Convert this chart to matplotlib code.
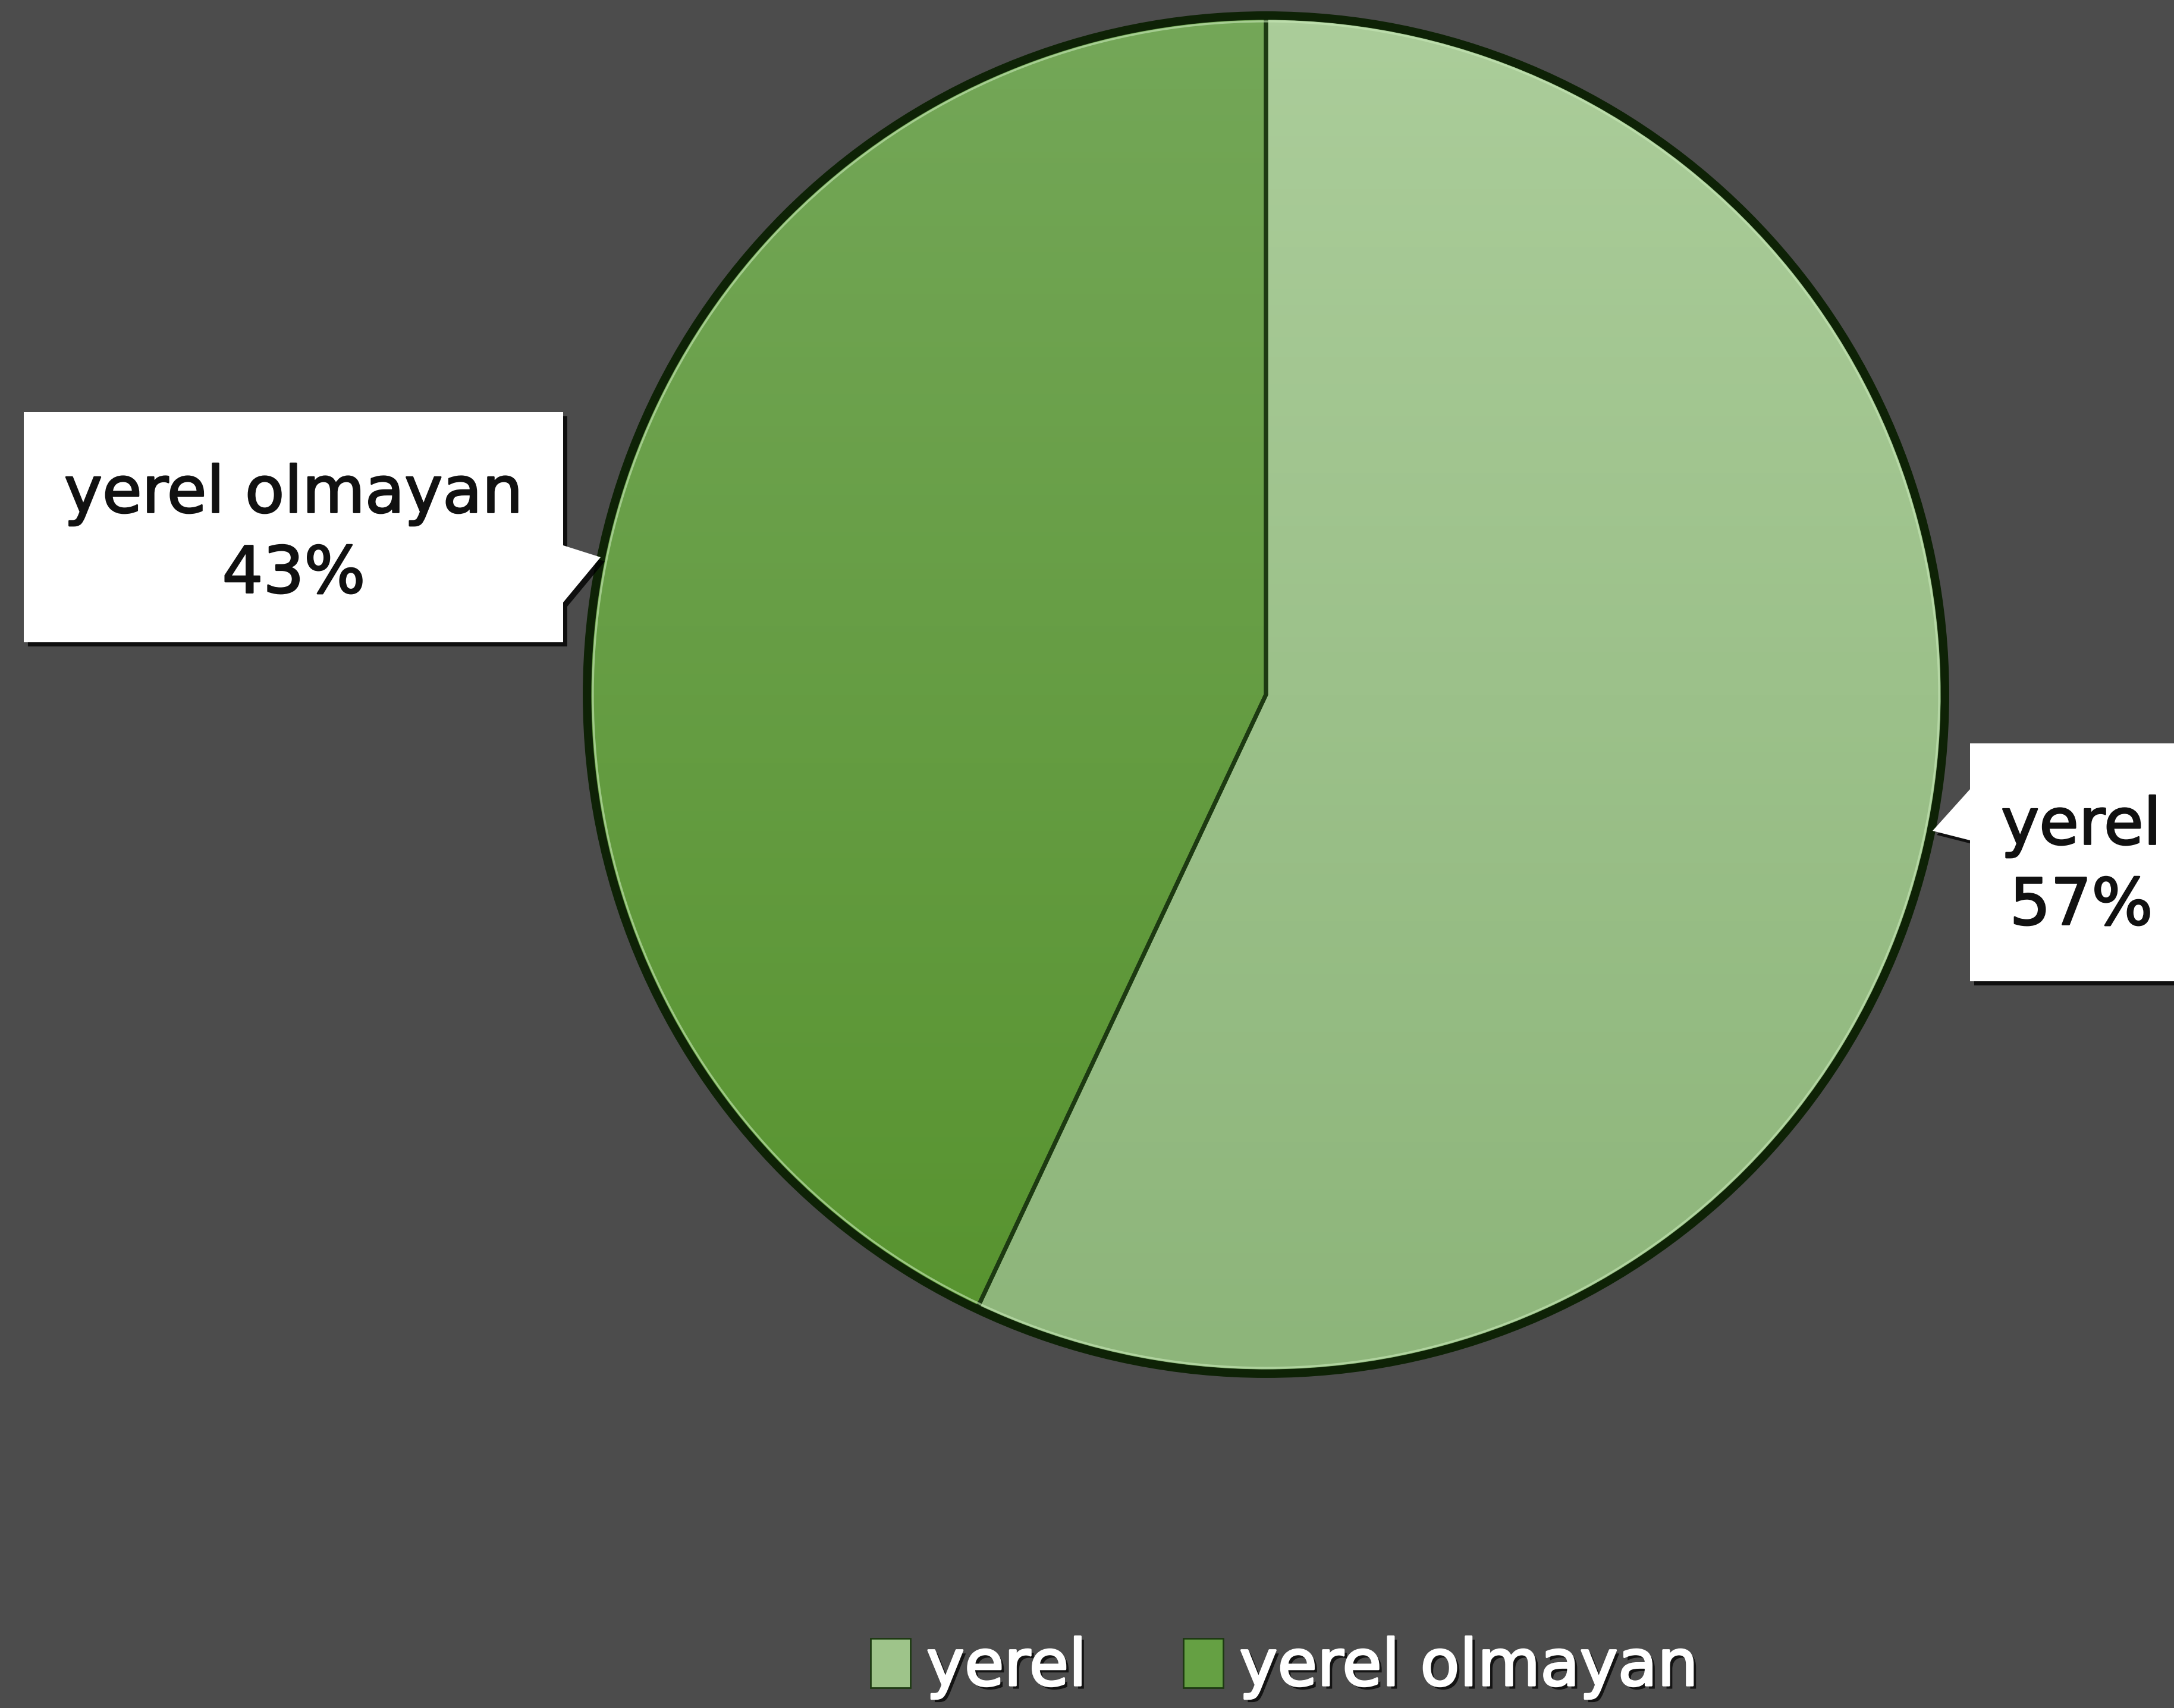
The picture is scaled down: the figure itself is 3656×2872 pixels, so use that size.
import numpy as np
import matplotlib
matplotlib.use("Agg")
import matplotlib.pyplot as plt
from matplotlib.colors import LinearSegmentedColormap
from matplotlib.patches import Polygon, Patch, Circle
import matplotlib.patheffects as pe

# ---- data ----
labels = ["yerel", "yerel olmayan"]
values = [57, 43]
colors = ["#9ec48a", "#65a043"]
grad_top = ["#abcd9a", "#74a758"]
grad_bot = ["#8db57a", "#57932e"]

W, H = 3656, 2872
DPI = 200
fig = plt.figure(figsize=(W / DPI, H / DPI), dpi=DPI)
fig.patch.set_facecolor("#4c4c4c")
ax = fig.add_axes([0, 0, 1, 1])

cx, cy, R = 2129, H - 1168, 1138

wedges, _ = ax.pie(values, colors=colors, startangle=90, counterclock=False,
                   center=(cx, cy), radius=R,
                   wedgeprops=dict(edgecolor="#1d3a12", linewidth=2.5))
ax.set_xlim(0, W)
ax.set_ylim(0, H)
ax.set_aspect("equal")
ax.axis("off")

# subtle vertical gradient inside each slice
grad = np.linspace(0, 1, 256).reshape(-1, 1)
for w, ct, cb in zip(wedges, grad_top, grad_bot):
    cmap = LinearSegmentedColormap.from_list("g", [cb, ct])
    im = ax.imshow(grad, extent=(cx - R, cx + R, cy - R, cy + R), origin="lower",
                   cmap=cmap, aspect="auto", zorder=1.5, interpolation="bilinear")
    im.set_clip_path(w)
    w.set_facecolor("none")
    w.set_zorder(2)

# outer dark rim with faint highlight
ax.add_patch(Circle((cx, cy), R + 4, fill=False, edgecolor="#0e2206", linewidth=5, zorder=2.5))
ax.add_patch(Circle((cx, cy), R - 6, fill=False, edgecolor="#c8e8b8", linewidth=1.2, alpha=0.6, zorder=2.4))
ax.set_xlim(0, W)
ax.set_ylim(0, H)

# callout boxes
left_box = [(40, H - 1080), (947, H - 1080), (947, H - 1013), (1010, H - 937),
            (947, H - 917), (947, H - 693), (40, H - 693)]
right_box = [(3313, H - 1650), (3700, H - 1650), (3700, H - 1250), (3313, H - 1250),
             (3313, H - 1327), (3250, H - 1397), (3313, H - 1413)]
for pts in (left_box, right_box):
    p = Polygon(pts, closed=True, facecolor="white", edgecolor="none", zorder=4)
    p.set_path_effects([pe.SimplePatchShadow(offset=(2.5, -2.5), shadow_rgbFace="black", alpha=0.8),
                        pe.Normal()])
    ax.add_patch(p)

total = sum(values)
label_pos = {"yerel olmayan": (494, H - 899), "yerel": (3500, H - 1457)}
for lab, v in zip(labels, values):
    x, y = label_pos[lab]
    t = ax.text(x, y, f"{lab}\n{round(100 * v / total)}%", ha="center", va="center",
                fontsize=39, color="#111111", linespacing=1.35, zorder=5,
                family="DejaVu Sans")
    t.set_path_effects([pe.withStroke(linewidth=1.0, foreground="#111111")])

# legend
handles = [Patch(facecolor=c, edgecolor="#1d3a12", linewidth=1) for c in colors]
leg = ax.legend(handles, labels, loc="center", bbox_to_anchor=(2160, 68),
                bbox_transform=ax.transData, ncol=2, frameon=False,
                fontsize=39, handlelength=0.62, handleheight=0.8,
                handletextpad=0.25, columnspacing=1.5)
for t in leg.get_texts():
    t.set_color("white")
    t.set_path_effects([pe.SimplePatchShadow(offset=(2, -2), shadow_rgbFace="black", alpha=0.75),
                        pe.withStroke(linewidth=1.2, foreground="white")])

fig.savefig("out.png", dpi=DPI, facecolor=fig.get_facecolor())
